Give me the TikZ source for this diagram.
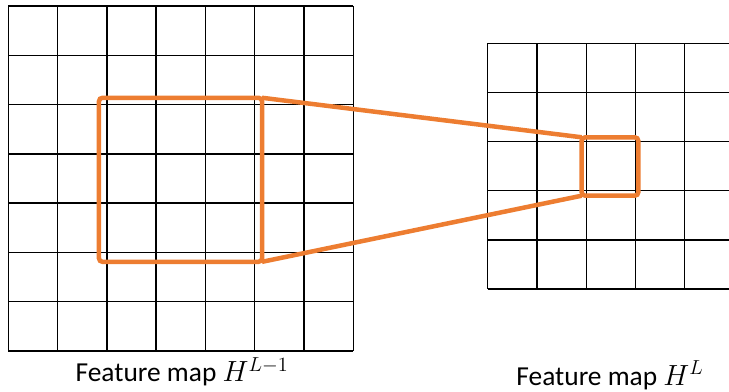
\documentclass[tikz,border=0pt]{standalone}
\usepackage{fontspec}
\setmainfont{Carlito}
\usepackage{tikz}
\definecolor{myorange}{HTML}{ED7D31}
\tikzset{
  gridline/.style={black, line width=1pt},
  focus/.style={draw=myorange, line width=3.2pt, rounded corners=2.5pt, inner sep=0pt, outer sep=0pt},
  link/.style={myorange, line width=3.2pt},
  caption/.style={anchor=base, font=\fontsize{19.5}{23}\selectfont}
}

\begin{document}
\begin{tikzpicture}[x=0.025cm, y=-0.025cm]
      \useasboundingbox (0,0) rectangle (729,392);

      % Feature map H^{L-1}: 7 x 7
      \foreach \i in {0,...,7} {
        \draw[gridline] (8.3+49.29*\i,6) -- (8.3+49.29*\i,351);
        \draw[gridline] (8.3,6+49.29*\i) -- (353.3,6+49.29*\i);
      }

      % Feature map H^L (runs off the right edge)
      \foreach \i in {0,...,4}
        \draw[gridline] (487.7+49.25*\i,43.3) -- (487.7+49.25*\i,289);
      \foreach \j in {0,...,5}
        \draw[gridline] (487.7,43.3+49.14*\j) -- (729,43.3+49.14*\j);

      \node[focus, minimum width=4.075cm, minimum height=4.1cm] (window) at (180.5,179.8) {};
      \node[focus, minimum width=1.415cm, minimum height=1.46cm] (unit) at (610,166.5) {};
      \draw[link] (window.north east) -- (unit.north west);
      \draw[link] (window.south east) -- (unit.south west);

      \node[caption] (capl) at (182,382) {Feature map $H^{L-1}$};
      \node[caption] (capr) at (610,385) {Feature map $H^{L}$};
    \end{tikzpicture}
\end{document}
